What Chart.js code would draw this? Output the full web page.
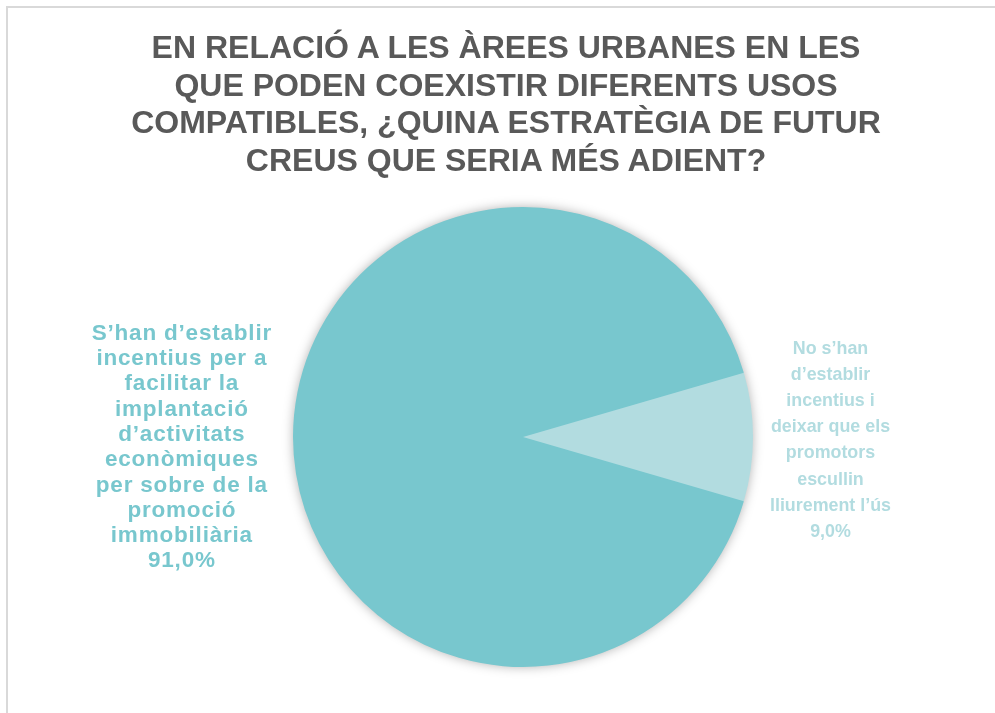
<!DOCTYPE html>
<html>
<head>
<meta charset="utf-8">
<script src="https://cdn.jsdelivr.net/npm/chart.js@4/dist/chart.umd.min.js"></script>
<style>
    html, body { margin: 0; padding: 0; background: #ffffff; }
    #wrap { position: relative; width: 995px; height: 713px; overflow: hidden; }
    #frame {
        position: absolute; left: 6px; top: 6px; width: 1100px; height: 800px;
        border: 2px solid #d9d9d9; box-sizing: border-box;
    }
    #title {
        position: absolute; left: 0; top: 29px; width: 1012px;
        font-family: "Liberation Sans", Arial, sans-serif; font-weight: bold;
        font-size: 32px; line-height: 37.5px; color: #595959; text-align: center;
    }
    #chartBox { position: absolute; left: 0; top: 0; width: 995px; height: 713px; }
</style>
</head>
<body>
<div id="wrap">
    <div id="frame"></div>
    <div id="chartBox"><canvas id="pieChart"></canvas></div>
    <div id="title">EN RELACIÓ A LES ÀREES URBANES EN LES<br>QUE PODEN COEXISTIR DIFERENTS USOS<br>COMPATIBLES, ¿QUINA ESTRATÈGIA DE FUTUR<br>CREUS QUE SERIA MÉS ADIENT?</div>
</div>
<script>
// dades del gràfic
const categories = [
    'S’han d’establir incentius per a facilitar la implantació d’activitats econòmiques per sobre de la promoció immobiliària',
    'No s’han d’establir incentius i deixar que els promotors escullin lliurement l’ús'
];
const values = [91.0, 9.0];
const labelLines = [
    ['S’han d’establir', 'incentius per a', 'facilitar la', 'implantació', 'd’activitats', 'econòmiques', 'per sobre de la', 'promoció', 'immobiliària'],
    ['No s’han', 'd’establir', 'incentius i', 'deixar que els', 'promotors', 'escullin', 'lliurement l’ús']
];
const sliceColors = ['#78c7ce', '#b2dce0'];
const labelColors = ['#78c7ce', '#b2dce0'];

// posició i mida de les etiquetes respecte al centre del pastís (en radis)
const labelStyle = [
    { dx: -1.485, dy: 0.045, size: 22.5, spacing: 0.8, squeeze: 1, lineH: 25.3 },
    { dx: 1.337, dy: 0.013, size: 19, spacing: 0, squeeze: 0.94, lineH: 26.2 }
];

// ombra suau al voltant del pastís
const shadowPlugin = {
    id: 'pieShadow',
    beforeDatasetsDraw(chart) {
        const arc = chart.getDatasetMeta(0).data[0];
        if (!arc) return;
        const ctx = chart.ctx;
        ctx.save();
        ctx.shadowColor = 'rgba(0, 0, 0, 0.35)';
        ctx.shadowBlur = 12;
        ctx.fillStyle = sliceColors[0];
        ctx.beginPath();
        ctx.arc(arc.x, arc.y, arc.outerRadius - 1, 0, Math.PI * 2);
        ctx.fill();
        ctx.restore();
    }
};

// etiquetes de categoria i percentatge
const labelPlugin = {
    id: 'sliceLabels',
    afterDatasetsDraw(chart) {
        const meta = chart.getDatasetMeta(0);
        const ctx = chart.ctx;
        meta.data.forEach((arc, i) => {
            const st = labelStyle[i];
            const lines = labelLines[i].concat([values[i].toFixed(1).replace('.', ',') + '%']);
            const cx = arc.x + st.dx * arc.outerRadius;
            const cy = arc.y + st.dy * arc.outerRadius;
            const startY = cy - (lines.length - 1) * st.lineH / 2;
            ctx.save();
            ctx.translate(cx, 0);
            ctx.scale(st.squeeze, 1);
            ctx.font = 'bold ' + st.size + 'px "Liberation Sans", Arial, sans-serif';
            ctx.letterSpacing = st.spacing + 'px';
            ctx.textAlign = 'center';
            ctx.textBaseline = 'middle';
            ctx.fillStyle = labelColors[i];
            lines.forEach((t, j) => ctx.fillText(t, st.spacing / 2, startY + j * st.lineH));
            ctx.restore();
        });
    }
};

const ctx = document.getElementById('pieChart').getContext('2d');
window.pieChart = new Chart(ctx, {
    type: 'pie',
    data: {
        labels: categories,
        datasets: [{
            data: values,
            backgroundColor: sliceColors,
            borderWidth: 0
        }]
    },
    options: {
        responsive: true,
        maintainAspectRatio: false,
        animation: false,
        rotation: 106.2,
        layout: {
            padding: { top: 207, bottom: 46, left: 51, right: 0 }
        },
        plugins: {
            legend: { display: false },
            tooltip: { enabled: false },
            title: { display: false }
        }
    },
    plugins: [shadowPlugin, labelPlugin]
});
</script>
</body>
</html>
